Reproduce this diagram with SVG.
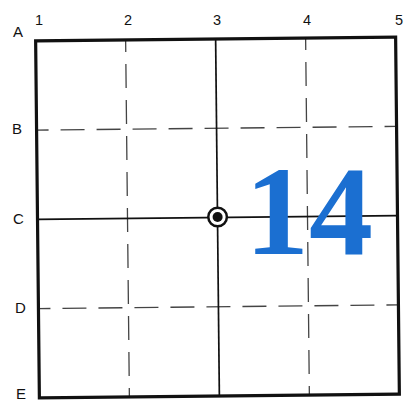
<svg xmlns="http://www.w3.org/2000/svg" width="410" height="401" viewBox="0 0 410 401">
<style>
.lbl{font-family:"Liberation Sans",Arial,sans-serif;font-size:14.5px;fill:#111;}
.row{font-size:15px;}
.dash{stroke:#444;stroke-width:1.3;stroke-dasharray:24 12;stroke-dashoffset:12;fill:none;}
.solid{stroke:#111;stroke-width:1.7;fill:none;}
.big{font-family:"Liberation Serif","Times New Roman",serif;font-weight:bold;font-size:128px;fill:#1b6fd1;}
</style>
<rect width="410" height="401" fill="#fff"/>
<g id="grid" transform="rotate(-0.6 217.5 217.5)">
  <g id="dashed-lines">
    <line class="dash" x1="127.5" y1="39" x2="127.5" y2="396"/>
    <line class="dash" x1="307.5" y1="39" x2="307.5" y2="396"/>
    <line class="dash" x1="37.5" y1="128.25" x2="397.5" y2="128.25"/>
    <line class="dash" x1="37.5" y1="306.75" x2="397.5" y2="306.75"/>
  </g>
  <g id="center-lines">
    <line class="solid" x1="217.5" y1="39" x2="217.5" y2="396"/>
    <line class="solid" x1="37.5" y1="217.5" x2="397.5" y2="217.5"/>
  </g>
  <rect id="frame" x="37.5" y="39" width="360" height="357" fill="none" stroke="#111" stroke-width="3.2"/>
</g>
<g id="center-point">
  <circle cx="217.6" cy="217" r="9.3" fill="#fff" stroke="#111" stroke-width="2.5"/>
  <circle cx="217.6" cy="217" r="5" fill="#111"/>
</g>
<g id="column-labels" class="lbl" text-anchor="middle">
  <text x="39" y="25">1</text>
  <text x="128" y="25">2</text>
  <text x="217" y="25">3</text>
  <text x="307" y="25">4</text>
  <text x="399" y="25">5</text>
</g>
<g id="row-labels" class="lbl row">
  <text x="13" y="37">A</text>
  <text x="12" y="134">B</text>
  <text x="13" y="224">C</text>
  <text x="15" y="313">D</text>
  <text x="16" y="399">E</text>
</g>
<text id="number" class="big" x="245" y="254">14</text>
</svg>
